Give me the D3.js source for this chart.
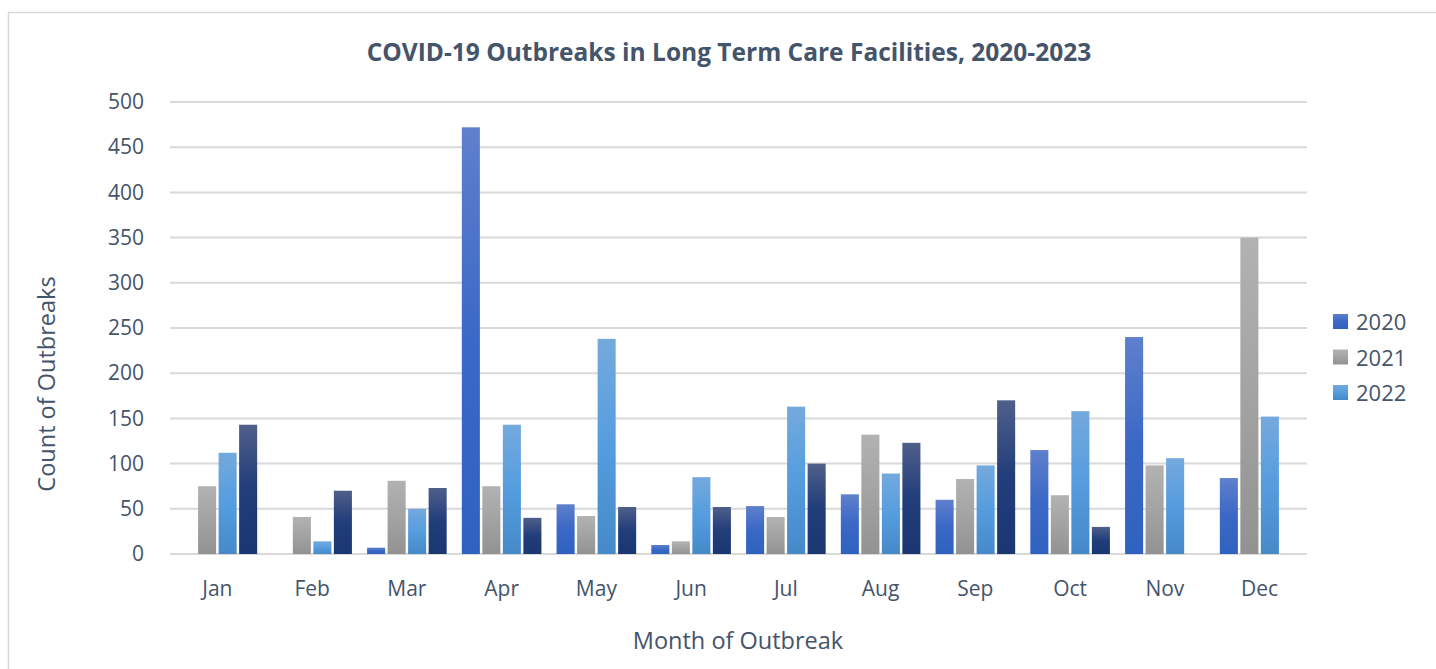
<!DOCTYPE html>
<html>
<head>
<meta charset="utf-8">
<script src="https://cdn.jsdelivr.net/npm/d3@7"></script>
<style>
  html, body { margin: 0; padding: 0; background: #fff; }
  svg { display: block; font-family: "Open Sans", "Noto Sans", sans-serif; }
</style>
</head>
<body>
<svg id="chart" width="1436" height="669"></svg>
<script>
// ---- Data ----
const months = ["Jan","Feb","Mar","Apr","May","Jun","Jul","Aug","Sep","Oct","Nov","Dec"];
const seriesNames = ["2020","2021","2022","2023"];
const legendNames = ["2020","2021","2022"];
const values2020 = [0, 0, 7, 472, 55, 10, 53, 66, 60, 115, 240, 84];
const values2021 = [75, 41, 81, 75, 42, 14, 41, 132, 83, 65, 98, 350];
const values2022 = [112, 14, 50, 143, 238, 85, 163, 89, 98, 158, 106, 152];
const values2023 = [143, 70, 73, 40, 52, 52, 100, 123, 170, 30, 0, 0];
const yTicks = [0, 50, 100, 150, 200, 250, 300, 350, 400, 450, 500];
const titleText = "COVID-19 Outbreaks in Long Term Care Facilities, 2020-2023";
const xTitle = "Month of Outbreak";
const yTitle = "Count of Outbreaks";

const seriesValues = [values2020, values2021, values2022, values2023];

const svg = d3.select("#chart");
const textColor = "#44546A";

// gradients
const gradStops = {
  "2020": ["#5f80cc", "#3a68c6", "#2f62c0"],
  "2021": ["#b2b2b2", "#a3a3a3", "#929292"],
  "2022": ["#74a9dd", "#559ddf", "#4589c8"],
  "2023": ["#4f5f8a", "#213d7a", "#1b3772"]
};
const defs = svg.append("defs");
seriesNames.forEach(s => {
  const g = defs.append("linearGradient").attr("id", "g" + s)
    .attr("x1", 0).attr("y1", 0).attr("x2", 0).attr("y2", 1);
  g.append("stop").attr("offset", "0%").attr("stop-color", gradStops[s][0]);
  g.append("stop").attr("offset", "50%").attr("stop-color", gradStops[s][1]);
  g.append("stop").attr("offset", "100%").attr("stop-color", gradStops[s][2]);
});

// outer border
svg.append("rect").attr("x", 8.5).attr("y", 12.5).attr("width", 1440).attr("height", 670)
  .attr("fill", "none").attr("stroke", "#d9d9d9").attr("stroke-width", 1.5);

const plot = { left: 170, right: 1307, top: 102, bottom: 554 };

const y = d3.scaleLinear().domain([0, 500]).range([plot.bottom, plot.top]);
const x0 = d3.scaleBand().domain(months).range([plot.left, plot.right])
  .paddingInner(0.16).paddingOuter(0.08);
const x1 = d3.scaleBand().domain(seriesNames).range([0, x0.bandwidth()]).paddingInner(0.12);

// gridlines
svg.append("g").selectAll("line").data(yTicks).join("line")
  .attr("x1", plot.left).attr("x2", plot.right)
  .attr("y1", d => y(d)).attr("y2", d => y(d))
  .attr("stroke", "#d9d9d9").attr("stroke-width", 2);

// y axis labels
const yAxis = d3.axisLeft(y).tickValues(yTicks).tickSize(0).tickPadding(0);
const yg = svg.append("g").attr("transform", `translate(${plot.left - 26},0)`).call(yAxis);
yg.select(".domain").remove();
yg.selectAll("text").attr("fill", textColor).style("font-size", "21px")
  .style("font-family", '"Open Sans", sans-serif');

// x axis labels
const xAxis = d3.axisBottom(x0).tickSize(0).tickPadding(0);
const xg = svg.append("g").attr("transform", `translate(0,${plot.bottom + 27})`).call(xAxis);
xg.select(".domain").remove();
xg.selectAll("text").attr("fill", textColor).style("font-size", "21px")
  .style("font-family", '"Open Sans", sans-serif');

// bars
const groups = svg.append("g").selectAll("g").data(months).join("g")
  .attr("transform", d => `translate(${x0(d)},0)`);
groups.selectAll("rect")
  .data((m, i) => seriesNames.map((s, k) => ({ s, v: seriesValues[k][i] })).filter(d => d.v > 0))
  .join("rect")
  .attr("x", d => x1(d.s))
  .attr("width", x1.bandwidth())
  .attr("y", d => y(d.v))
  .attr("height", d => y(0) - y(d.v))
  .attr("fill", d => `url(#g${d.s})`);

// title
svg.append("text").attr("x", 729).attr("y", 61).attr("text-anchor", "middle")
  .attr("fill", textColor).style("font-size", "24.5px").style("font-weight", "bold")
  .text(titleText);

// axis titles
svg.append("text").attr("x", 738).attr("y", 649).attr("text-anchor", "middle")
  .attr("fill", textColor).style("font-size", "23.5px").text(xTitle);
svg.append("text").attr("transform", "translate(55,384) rotate(-90)").attr("text-anchor", "middle")
  .attr("fill", textColor).style("font-size", "23.5px").text(yTitle);

// legend
const leg = svg.append("g").selectAll("g").data(legendNames).join("g")
  .attr("transform", (d, i) => `translate(1333,${314 + i * 35.5})`);
leg.append("rect").attr("width", 15).attr("height", 15).attr("fill", d => `url(#g${d})`);
leg.append("text").attr("x", 23).attr("y", 16).attr("fill", textColor)
  .style("font-size", "22px").text(d => d);
</script>
</body>
</html>
